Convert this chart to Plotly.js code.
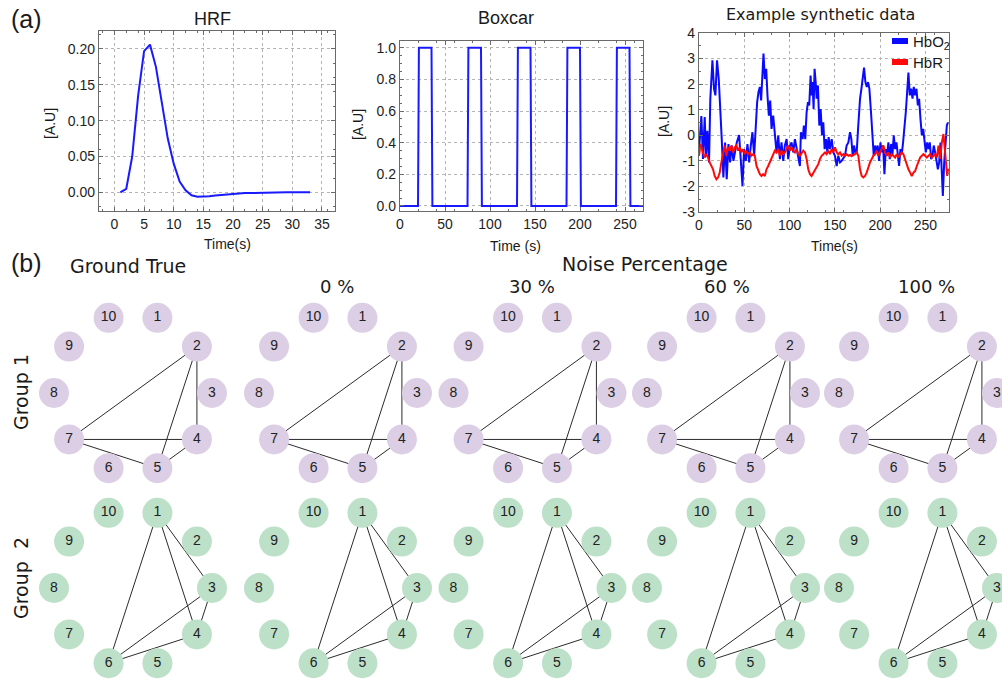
<!DOCTYPE html>
<html><head><meta charset="utf-8">
<script src="https://cdn.plot.ly/plotly-3.0.1.min.js"></script>
<style>html,body{margin:0;padding:0;background:#fff;}#chart{width:1002px;height:681px;}</style>
</head><body><div id="chart"></div>
<script>
// ---------------- data ----------------
const hrfTime = [1,2,3,4,5,6,7,8,9,10,11,12,13,14,15,16,17,18,19,20,21,22,23,24,25,26,27,28,29,30,31,32,33];
const hrfValue = [0,0.005,0.05,0.135,0.197,0.206,0.175,0.128,0.075,0.04,0.015,0.003,-0.004,-0.006,-0.006,-0.0055,-0.0045,-0.0035,-0.0027,-0.002,-0.0015,-0.001,-0.0007,-0.0005,-0.0003,-0.0002,-0.0001,0,0,0,0,0,0];

const boxTime = [0,20,21,35,36,75,76,90,91,130,131,145,146,185,186,200,201,240,241,255,256,270];
const boxValue = [0,0,1,1,0,0,1,1,0,0,1,1,0,0,1,1,0,0,1,1,0,0];

const hbo2Time = [0,2.6,4.4,6.3,7.7,9.2,11.1,12.5,14.8,16.6,18.1,19.9,21.8,23.6,25.1,26.9,28.8,30.6,32.5,34.3,36.2,38,39.9,41.7,44.3,46.1,48,49.8,51.7,53.5,55.4,57.2,59,60.9,62.7,64.2,65.7,67.2,68.6,70.1,71.2,72.7,74.2,75.6,77.1,78.6,80.1,81.9,83.8,85.6,87.5,89.3,91.1,93,94.8,96.7,98.5,100.4,102.2,104,105.9,107.7,109.6,111.4,112.5,114.4,115.8,117.3,118.8,120.3,121.7,123.2,124.3,125.4,126.5,127.6,128.8,129.9,131.3,132.8,134.3,135.8,137.2,138.7,140.2,141.7,143.1,144.6,146.5,148.3,150.1,152,153.8,155.7,157.5,159.4,161.2,163,164.9,166.7,168.2,169.7,171.2,172.6,174.1,175.6,176.7,177.8,179.3,180.7,182.2,183.7,185.2,186.6,188.1,189.9,191.4,192.9,194.4,195.8,197.3,198.8,200.3,201.7,203.2,204.7,206.2,207.6,209.1,210.6,212.1,213.5,215,216.5,218,219.4,220.9,222.4,223.9,225.3,226.8,228.3,229.8,231.2,232.7,234.2,235.7,237.1,238.6,240.1,241.6,243,244.5,246,247.5,248.9,250.4,251.9,253.4,254.8,256.3,257.8,259.2,260.7,262.2,263.7,265.1,266.6,268.1,269.2,270.7,272.2,273.6,274.8];
const hbo2Value = [-0.6,0.75,-0.93,0.71,-0.8,0.18,-1.06,1.43,2.93,1.82,1.56,2.93,2.2,1.17,-0.15,-1.65,-0.28,-1.72,-0.34,-1.06,-0.4,-1.0,-0.67,-0.28,0.01,-0.8,-1.98,-0.54,-1.0,-0.34,-1.06,-0.4,0.12,-0.8,0.25,1.3,1.69,1.89,1.36,2.34,3.2,2.2,2.6,1.56,0.77,1.36,0.25,0.77,-0.15,-0.67,-0.01,-0.93,-0.28,-1.0,-0.4,-0.15,-0.93,-0.4,-0.28,-0.67,-0.15,-0.54,-0.8,-1.2,0.12,-0.15,0.38,-0.15,0.9,1.3,1.17,2.34,1.56,2.08,1.03,2.6,2.08,1.43,1.95,0.38,1.03,0,0.51,-0.54,-0.15,-0.67,-0.07,-0.54,-0.15,-0.67,-0.8,-1.2,-0.8,-1.06,-1.0,-0.87,-0.8,-0.4,-0.28,0.12,-0.15,-0.8,-0.4,-0.67,-0.67,0.25,1.17,1.43,1.82,2.2,2.65,2.08,1.89,2.08,1.82,0.9,0,-0.8,-0.4,-0.67,-0.4,-1.0,-0.28,-0.67,-0.4,-1.52,-0.54,-0.8,-0.28,-0.93,-0.34,-0.8,0,-0.54,-0.28,-0.67,-1.2,-0.54,-0.74,-0.28,0.25,0.9,1.69,2.45,1.56,1.82,1.43,1.89,1.56,1.82,1.17,1.43,0.64,0,0.25,-0.34,-0.67,-0.28,-0.54,-0.28,-0.93,-0.8,-0.4,-0.67,-0.93,-1.33,-1.06,-0.28,-1.46,-2.37,-1.06,-0.28,0.38,0.5];

const hbrTime = [0,1.8,4.4,6.3,8.1,10,11.8,13.7,15.5,17.3,19.2,21,22.9,24.7,26.6,28.4,30.3,32.1,33.9,35.8,37.6,39.5,41.3,43.2,45,46.9,48.7,50.6,52.4,54.2,56.1,57.9,59.8,61.6,63.5,65.3,67.2,69,70.8,72.7,74.5,76.4,78.2,80.1,81.9,83.8,85.6,87.5,89.3,91.1,93,94.8,96.7,98.5,100.4,102.2,104,105.9,107.7,109.6,111.4,113.3,115.1,117,118.8,120.6,122.5,124.3,126.2,128,129.9,131.7,133.5,135.4,137.2,139.1,140.9,142.8,144.6,146.5,148.3,150.1,152,153.8,155.7,157.5,159.4,161.2,163,164.9,166.7,168.5,170.4,172.2,174.1,175.9,177.8,179.6,181.5,183.3,185.1,187,188.8,190.7,192.5,194.4,196.2,198,199.9,201.7,203.6,205.4,207.3,209.1,211,212.8,214.6,216.5,218.3,220.2,222,223.9,225.7,227.5,229.4,231.2,233.1,234.9,236.8,238.6,240.5,242.3,244.1,246,247.8,249.7,251.5,253.4,255.2,257.1,258.9,260.7,262.6,264.4,266.3,268.1,269.9,271,272.5,274,275];
const hbrValue = [-0.8,-0.34,-0.67,-0.87,-0.74,-0.87,-1.06,-1.2,-1.33,-1.59,-1.72,-1.65,-1.46,-1.06,-0.67,-0.4,-0.8,-0.47,-0.6,-0.4,-0.67,-0.47,-0.4,-0.6,-0.47,-0.67,-0.54,-0.74,-0.6,-0.74,-0.67,-0.8,-0.74,-0.8,-1.2,-1.4,-1.52,-1.59,-1.52,-1.59,-1.33,-1.2,-1.06,-0.87,-0.8,-0.6,-0.67,-0.54,-0.8,-0.6,-0.74,-0.67,-0.54,-0.4,-0.6,-0.47,-0.6,-0.67,-0.54,-0.74,-0.8,-0.67,-0.6,-0.67,-0.93,-1.33,-1.52,-1.59,-1.46,-1.4,-1.26,-1.13,-0.93,-0.8,-0.74,-0.67,-0.74,-0.6,-0.74,-0.54,-0.67,-0.47,-0.67,-0.74,-0.67,-0.8,-0.74,-0.8,-0.74,-0.8,-0.77,-0.82,-0.77,-0.74,-0.67,-0.8,-1.33,-1.59,-1.65,-1.59,-1.46,-1.2,-1.06,-0.93,-0.8,-0.74,-0.6,-0.8,-0.67,-0.54,-0.4,-0.67,-0.8,-0.67,-0.87,-0.74,-0.8,-0.87,-0.74,-0.87,-0.77,-0.67,-0.74,-0.93,-1.2,-1.33,-1.46,-1.59,-1.46,-1.4,-1.2,-1.06,-0.87,-0.8,-0.74,-0.8,-0.87,-0.8,-0.74,-0.87,-0.8,-0.74,-0.87,-0.4,-0.93,-0.28,0.05,-0.4,-1.06,-1.59,-1.3];

const hrfXTicks = [0,5,10,15,20,25,30,35];
const hrfYTicks = [0,0.05,0.1,0.15,0.2];
const boxXTicks = [0,50,100,150,200,250];
const boxYTicks = [0,0.2,0.4,0.6,0.8,1.0];
const synXTicks = [0,50,100,150,200,250];
const synYTicks = [-3,-2,-1,0,1,2,3,4];
const synYTickText = ['-3','-2','-1','0','1','2','3','4'];

const nodeIds = [1,2,3,4,5,6,7,8,9,10];
const group1Edges = [[2,7],[2,5],[2,4],[7,4],[7,5],[5,4]];
const group2Edges = [[1,6],[1,4],[1,3],[3,4],[3,6],[4,6]];
const panelNames = ['Ground True','0 %','30 %','60 %','100 %'];
const groupNames = ['Group 1','Group\u00a0\u00a02'];

// ---------------- layout helpers ----------------
const W = 1002, H = 681;
const ARIAL = 'Arial, "Liberation Sans", sans-serif';
const VERD = '"DejaVu Sans", Verdana, sans-serif';
const tickFont = {family:ARIAL, size:14, color:'#1e1e1e'};
function dx(a,b){return [a/W, b/W];}
function dy(top,bottom){return [1-bottom/H, 1-top/H];}
function frameAxis(extra){
  return Object.assign({showline:true, linecolor:'#6a6a6a', linewidth:1.2, mirror:'ticks',
    ticks:'inside', ticklen:4, tickcolor:'#6a6a6a', showgrid:true, gridcolor:'#b4b4b4',
    griddash:'dot', gridwidth:1, zeroline:false, tickfont:tickFont, fixedrange:true,
    minor:{ticks:'inside', ticklen:2, tickcolor:'#6a6a6a', showgrid:false}}, extra);
}

const traces = [];
const layout = {
  width:W, height:H, margin:{l:0,r:0,t:0,b:0}, paper_bgcolor:'#fff', plot_bgcolor:'#fff',
  showlegend:false, annotations:[], shapes:[],
  xaxis: frameAxis({domain:dx(99,335), range:[-2.6,37.2], tickvals:hrfXTicks, anchor:'y'}),
  yaxis: frameAxis({domain:dy(31,211), range:[-0.026,0.225], tickvals:hrfYTicks, tickformat:'.2f', anchor:'x'}),
  xaxis2: frameAxis({domain:dx(400,643), range:[0,270], tickvals:boxXTicks, anchor:'y2'}),
  yaxis2: frameAxis({domain:dy(40.7,210.7), range:[-0.03,1.045], tickvals:boxYTicks, tickformat:'.1f', anchor:'x2'}),
  xaxis3: frameAxis({domain:dx(699,949), range:[0,276], tickvals:synXTicks, anchor:'y3'}),
  yaxis3: frameAxis({domain:dy(33,212), range:[-3,4], tickvals:synYTicks, ticktext:synYTickText, anchor:'x3'})
};

traces.push({type:'scatter', mode:'lines', x:hrfTime, y:hrfValue, xaxis:'x', yaxis:'y',
  line:{color:'#1a1aff', width:2}, hoverinfo:'skip'});
traces.push({type:'scatter', mode:'lines', x:boxTime, y:boxValue, xaxis:'x2', yaxis:'y2',
  line:{color:'#1a1aff', width:2}, hoverinfo:'skip'});
traces.push({type:'scatter', mode:'lines', name:'HbO2', x:hbo2Time, y:hbo2Value, xaxis:'x3', yaxis:'y3',
  line:{color:'#0a0aff', width:2}, hoverinfo:'skip'});
traces.push({type:'scatter', mode:'lines', name:'HbR', x:hbrTime, y:hbrValue, xaxis:'x3', yaxis:'y3',
  line:{color:'#ff0a0a', width:2}, hoverinfo:'skip'});

function ann(text, x, y, size, family, extra){
  layout.annotations.push(Object.assign({text:text, x:x/W, y:1-y/H, xref:'paper', yref:'paper',
    showarrow:false, xanchor:'center', yanchor:'middle',
    font:{family:family, size:size, color:'#1a1a1a'}}, extra||{}));
}

// titles
ann('HRF', 212, 19, 18, ARIAL);
ann('Boxcar', 506, 18, 18, ARIAL);
ann('Example synthetic data', 820, 15, 16, VERD);
// axis titles
ann('[A.U]', 50, 124, 14, ARIAL, {textangle:-90});
ann('[A.U]', 358, 125, 14, ARIAL, {textangle:-90});
ann('[A.U]', 664, 122, 14, ARIAL, {textangle:-90});
ann('Time(s)', 227, 244, 14, ARIAL);
ann('Time (s)', 515, 246, 14, ARIAL);
ann('Time(s)', 834, 246, 14, ARIAL);
// legend (manual, compact)
layout.shapes.push({type:'line', xref:'paper', yref:'paper', x0:892/W, x1:908/W, y0:1-41/H, y1:1-41/H, line:{color:'#0a0aff', width:6}});
layout.shapes.push({type:'line', xref:'paper', yref:'paper', x0:892/W, x1:908/W, y0:1-62/H, y1:1-62/H, line:{color:'#ff0a0a', width:6}});
ann('HbO<sub>2</sub>', 911, 42, 15, ARIAL, {xanchor:'left'});
ann('HbR', 911, 62, 15, ARIAL, {xanchor:'left'});
// panel labels
ann('(a)', 26, 19, 25, ARIAL);
ann('(b)', 26, 263, 25, ARIAL);
ann(panelNames[0], 128, 266, 19, VERD);
ann('Noise Percentage', 645, 264, 19, VERD);
const panelTitleX = [null, 337, 532, 727, 926];
for (let c = 1; c < panelNames.length; c++) ann(panelNames[c], panelTitleX[c], 287, 18, VERD);
ann(groupNames[0], 21, 392, 19, VERD, {textangle:-90});
ann(groupNames[1], 21, 578, 19, VERD, {textangle:-90});

// ---------------- network panels ----------------
const R = 79;                 // px per unit radius
const colCenters = [133, 338, 532.5, 726, 918];
const rowCenters = [393, 588];
const half = 97;
const nodeFill = ['#dccfe5', '#bde0c9'];
const edgeSets = [group1Edges, group2Edges];
const angle = k => (3 - k) * 36 * Math.PI / 180;
const nx = nodeIds.map(k => Math.cos(angle(k)));
const ny = nodeIds.map(k => Math.sin(angle(k)));

let ax = 4;
for (let g = 0; g < 2; g++) {
  for (let c = 0; c < colCenters.length; c++) {
    const cx = colCenters[c], cy = rowCenters[g];
    const x0 = Math.max(0, cx - half), x1 = Math.min(W, cx + half);
    const yt = Math.max(0, cy - half), yb = Math.min(H, cy + half);
    layout['xaxis' + ax] = {domain:[x0/W, x1/W], range:[(x0-cx)/R, (x1-cx)/R], visible:false, fixedrange:true, anchor:'y'+ax};
    layout['yaxis' + ax] = {domain:[1-yb/H, 1-yt/H], range:[(cy-yb)/R, (cy-yt)/R], visible:false, fixedrange:true, anchor:'x'+ax};
    const ex = [], ey = [];
    edgeSets[g].forEach(([a,b]) => { ex.push(nx[a-1], nx[b-1], null); ey.push(ny[a-1], ny[b-1], null); });
    traces.push({type:'scatter', mode:'lines', x:ex, y:ey, xaxis:'x'+ax, yaxis:'y'+ax,
      line:{color:'#2b2b2b', width:1}, hoverinfo:'skip', cliponaxis:false});
    traces.push({type:'scatter', mode:'markers+text', x:nx, y:ny, text:nodeIds.map(String),
      textposition:'middle center', xaxis:'x'+ax, yaxis:'y'+ax, cliponaxis:false,
      marker:{size:30, color:nodeFill[g], line:{width:0}},
      textfont:{family:ARIAL, size:14, color:'#222'}, hoverinfo:'skip'});
    ax++;
  }
}

Plotly.newPlot('chart', traces, layout, {staticPlot:true, displayModeBar:false});
</script></body></html>
